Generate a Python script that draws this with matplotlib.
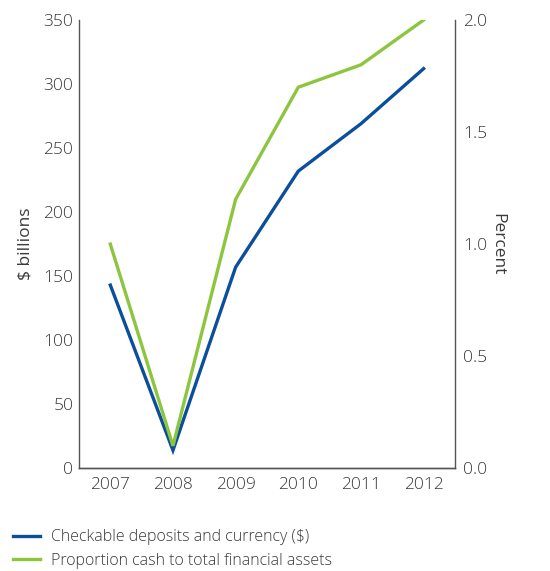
import matplotlib
matplotlib.use("Agg")
import matplotlib.pyplot as plt
from matplotlib.lines import Line2D

years = [2007, 2008, 2009, 2010, 2011, 2012]
deposits = [143, 14, 157, 232, 269, 312]
proportion = [1.0, 0.1, 1.2, 1.7, 1.8, 2.0]
left_ticks = [0, 50, 100, 150, 200, 250, 300, 350]
right_ticks = [0.0, 0.5, 1.0, 1.5, 2.0]

blue = "#0b4f9b"
green = "#8cc63f"
txt = "#3a3a3a"
spine_c = "#555555"

plt.rcParams['font.family'] = ['Open Sans', 'DejaVu Sans']
plt.rcParams['font.weight'] = 'light'
fs = 12.5
lfs = 11.5

fig = plt.figure(figsize=(5.5, 5.71), dpi=100)
ax = fig.add_axes([0.1436, 0.180, 0.6836, 0.785])
ax2 = ax.twinx()

ax.plot(years, deposits, color=blue, lw=2.4, solid_joinstyle='miter')
ax2.plot(years, proportion, color=green, lw=2.4, solid_joinstyle='miter')

ax.set_xlim(2006.5, 2012.5)
ax.set_ylim(0, 350)
ax2.set_ylim(0, 2.0)
ax.set_xticks(years)
ax.set_xticklabels([str(y) for y in years])
ax.set_yticks(left_ticks)
ax2.set_yticks(right_ticks)
ax2.set_yticklabels([f"{v:.1f}" for v in right_ticks])

for a in (ax, ax2):
    a.spines['top'].set_visible(False)
    for s in ('left', 'right', 'bottom'):
        a.spines[s].set_color(spine_c)
        a.spines[s].set_linewidth(1.0)
    a.tick_params(length=0, labelsize=fs, colors=txt, pad=6)
ax.spines['right'].set_visible(False)
ax2.spines['left'].set_visible(False)
ax.tick_params(axis='y', pad=4)
ax.tick_params(axis='x', pad=6)

ax.set_ylabel("$ billions", fontsize=fs, color=txt, labelpad=7)
ax2.set_ylabel("Percent", fontsize=fs, color=txt, rotation=270, labelpad=13)

handles = [Line2D([0], [0], color=blue, lw=2.4),
           Line2D([0], [0], color=green, lw=2.4)]
labels = ["Checkable deposits and currency ($)",
          "Proportion cash to total financial assets"]
fig.legend(handles, labels, loc='lower left', bbox_to_anchor=(-0.002, -0.021),
           frameon=False, fontsize=lfs, handlelength=1.7, handletextpad=0.69,
           labelspacing=0.45, labelcolor=txt)

fig.savefig("out.png", dpi=100)
